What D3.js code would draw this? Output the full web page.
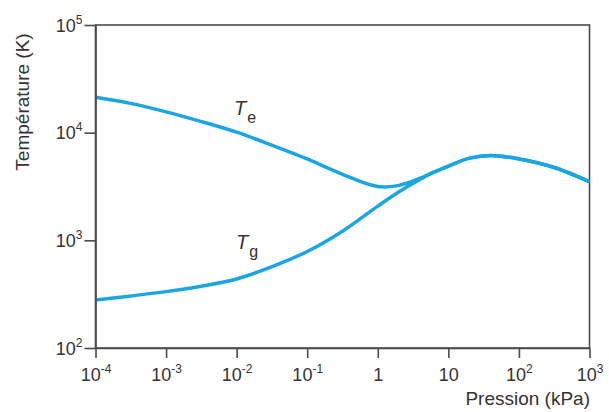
<!DOCTYPE html>
<html>
<head>
<meta charset="utf-8">
<script src="https://cdn.jsdelivr.net/npm/d3@7"></script>
<style>
  html, body { margin: 0; padding: 0; background: #fff; }
  svg { display: block; }
  text { font-family: "Liberation Sans", Arial, Helvetica, sans-serif; fill: #333; }
</style>
</head>
<body>
<svg id="chart" width="609" height="412"></svg>
<script>
// ---- Data ----
const pressure = [1e-4, 3e-4, 1e-3, 3e-3, 1e-2, 3e-2, 0.1, 0.3, 1, 2, 4, 6, 10, 20, 40, 100, 300, 1000]; // kPa
const tempElectron = [21300, 18800, 15600, 12800, 10100, 7750, 5700, 4170, 3160, 3240, 3780, 4250, 4900, 5800, 6150, 5700, 4800, 3510]; // K
const tempGas = [279, 303, 334, 373, 437, 562, 787, 1190, 2080, 2830, 3700, 4250, 4900, 5800, 6150, 5700, 4800, 3510]; // K

const xTickValues = [1e-4, 1e-3, 1e-2, 1e-1, 1, 10, 100, 1000];
const xTickBase = ["10", "10", "10", "10", "1", "10", "10", "10"];
const xTickExp = ["-4", "-3", "-2", "-1", "", "", "2", "3"];
const yTickValues = [1e2, 1e3, 1e4, 1e5];
const yTickBase = ["10", "10", "10", "10"];
const yTickExp = ["2", "3", "4", "5"];

const xTitle = "Pression (kPa)";
const yTitle = "Température (K)";

// ---- Layout ----
const svg = d3.select("#chart");
const mLeft = 95.5, mRight = 589.5, mTop = 25, mBottom = 348;

const x = d3.scaleLog().domain([1e-4, 1e3]).range([mLeft, mRight]);
const y = d3.scaleLog().domain([1e2, 1e5]).range([mBottom, mTop]);

const axisColor = "#4a4a4a";
const curveColor = "#1ba6e3";

// Frame (top and right borders)
svg.append("rect")
  .attr("x", mLeft).attr("y", mTop)
  .attr("width", mRight - mLeft).attr("height", mBottom - mTop)
  .attr("fill", "none").attr("stroke", axisColor).attr("stroke-width", 1.6);

// Curves
const line = d3.line()
  .x((d, i) => x(pressure[i]))
  .y(d => y(d))
  .curve(d3.curveCatmullRom.alpha(0.5));

svg.append("path").datum(tempGas)
  .attr("d", line).attr("fill", "none")
  .attr("stroke", curveColor).attr("stroke-width", 3.5);
svg.append("path").datum(tempElectron)
  .attr("d", line).attr("fill", "none")
  .attr("stroke", curveColor).attr("stroke-width", 3.5);

// X axis
const xAxis = d3.axisBottom(x).tickValues(xTickValues).tickSize(10).tickSizeOuter(0).tickFormat("");
const gx = svg.append("g").attr("transform", `translate(0,${mBottom})`).call(xAxis);
gx.select(".domain").attr("stroke", axisColor).attr("stroke-width", 1.6);
gx.selectAll(".tick line").attr("stroke", axisColor).attr("stroke-width", 1.6);
gx.selectAll(".tick text").remove();
gx.selectAll(".tick").each(function(d, i) {
  const t = d3.select(this).append("text")
    .attr("y", 33).attr("text-anchor", "middle")
    .style("font-size", "18px");
  t.append("tspan").text(xTickBase[i]);
  if (xTickExp[i]) {
    t.append("tspan").attr("dy", -8).style("font-size", "12px").text(xTickExp[i]);
  }
});

// Y axis
const yAxis = d3.axisLeft(y).tickValues(yTickValues).tickSize(11).tickSizeOuter(0).tickFormat("");
const gy = svg.append("g").attr("transform", `translate(${mLeft},0)`).call(yAxis);
gy.select(".domain").attr("stroke", axisColor).attr("stroke-width", 1.6);
gy.selectAll(".tick line").attr("stroke", axisColor).attr("stroke-width", 1.6);
gy.selectAll(".tick text").remove();
gy.selectAll(".tick").each(function(d, i) {
  const t = d3.select(this).append("text")
    .attr("x", -13).attr("y", 6).attr("text-anchor", "end")
    .style("font-size", "18px");
  t.append("tspan").text(yTickBase[i]);
  t.append("tspan").attr("dy", -8).style("font-size", "12px").text(yTickExp[i]);
});

// Axis titles
svg.append("text")
  .attr("x", 590).attr("y", 405).attr("text-anchor", "end")
  .style("font-size", "19px").text(xTitle);
svg.append("text")
  .attr("transform", "translate(29,102) rotate(-90)")
  .attr("text-anchor", "middle")
  .style("font-size", "19px").text(yTitle);

// Curve labels
function curveLabel(px, py, sub) {
  const t = svg.append("text").attr("x", px).attr("y", py);
  t.append("tspan").style("font-size", "20px").style("font-style", "italic").text("T");
  t.append("tspan").attr("dx", 1).attr("dy", 8).style("font-size", "16px").text(sub);
}
curveLabel(234, 115, "e");
curveLabel(236, 249, "g");
</script>
</body>
</html>
